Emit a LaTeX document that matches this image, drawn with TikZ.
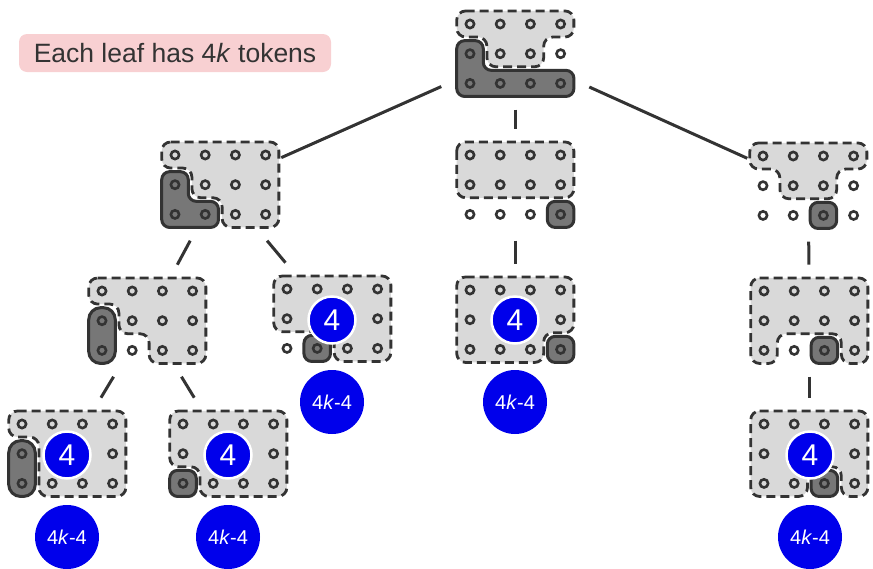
\documentclass[tikz,border=0pt]{standalone}
\usepackage{fontspec}
\setmainfont{Liberation Sans}
\definecolor{ink}{HTML}{333333}
\definecolor{lightfill}{HTML}{D9D9D9}
\definecolor{darkfill}{HTML}{777777}
\definecolor{badge}{RGB}{0,0,235}
\definecolor{notefill}{HTML}{F8D0D2}
\tikzset{
  lightzone/.style={fill=lightfill, draw=ink, line width=2.8pt, dash pattern=on 9pt off 5pt, rounded corners=9pt},
  darkzone/.style={fill=darkfill, draw=ink, line width=3pt, rounded corners=8pt},
  pillzone/.style={darkzone, rounded corners=12pt},
  hole/.style={draw=ink, line width=2.6pt},
  blk/.style={rectangle, inner sep=0pt, outer sep=0pt, minimum width=122pt, minimum height=112pt},
  treeline/.style={draw=ink, line width=3pt},
  fourbadge/.style={circle, fill=badge, draw=white, line width=2.5pt, text=white, minimum size=47pt, inner sep=0pt, font=\fontsize{30}{32}\selectfont},
  restbadge/.style={circle, fill=badge, text=white, minimum size=64pt, inner sep=0pt, font=\fontsize{20}{22}\selectfont},
  notebox/.style={fill=notefill, rounded corners=8pt, text=ink, minimum width=312pt, minimum height=38pt, inner sep=0pt, font=\fontsize{26.5}{30}\selectfont}
}
% ring of 4x3 token holes in the local grid of a block
\newcommand\holegrid{%
  \foreach \c in {0,...,3} {\foreach \r in {0,1,2} {\draw[hole] (\c,\r) circle[radius=4.1pt];}}}
\begin{document}
\begin{tikzpicture}[x=1pt,y=-1pt]
\useasboundingbox (0,0) rectangle (873,568);

% invisible frames of the blocks, used as connector ends
\node[blk, minimum width=148pt] (R) at (515.3,53.7) {};
\node[blk] (A) at (220.3,184.7) {};
\node[blk] (B) at (515.3,184.7) {};
\node[blk] (C) at (808.3,185.7) {};
\node[blk] (AA) at (147.3,320.7) {};
\node[blk] (AB) at (332.3,318.7) {};
\node[blk] (BA) at (515.3,319.7) {};
\node[blk] (CA) at (809.3,320.7) {};
\node[blk] (AAA) at (67.3,453.7) {};
\node[blk] (AAB) at (228.3,453.7) {};
\node[blk] (CAA) at (809.3,453.7) {};

% tree connectors
\draw[treeline] (R) -- (A);
\draw[treeline] (R) -- (B);
\draw[treeline] (R) -- (C);
\draw[treeline] (A) -- (AA);
\draw[treeline] (A) -- (AB);
\draw[treeline] (B) -- (BA);
\draw[treeline] (C) -- (CA);
\draw[treeline] (AA) -- (AAA);
\draw[treeline] (AA) -- (AAB);
\draw[treeline] (CA) -- (CAA);

% root
\begin{scope}[shift={(470pt,-24pt)}, x=30.2pt, y=-29.7pt]
  \draw[lightzone] (-0.44,-0.44) -- (3.44,-0.44) -- (3.44,0.44) -- (2.44,0.44) -- (2.44,1.44) -- (0.56,1.44) -- (0.56,0.44) -- (-0.44,0.44) -- cycle;
  \draw[darkzone] (-0.44,0.56) -- (0.44,0.56) -- (0.44,1.56) -- (3.44,1.56) -- (3.44,2.44) -- (-0.44,2.44) -- cycle;
  \holegrid
\end{scope}

% left child
\begin{scope}[shift={(175pt,-155pt)}, x=30.2pt, y=-29.7pt]
  \draw[lightzone] (-0.44,-0.44) -- (3.44,-0.44) -- (3.44,2.44) -- (1.56,2.44) -- (1.56,1.44) -- (0.56,1.44) -- (0.56,0.44) -- (-0.44,0.44) -- cycle;
  \draw[darkzone] (-0.44,0.56) -- (0.44,0.56) -- (0.44,1.56) -- (1.44,1.56) -- (1.44,2.44) -- (-0.44,2.44) -- cycle;
  \holegrid
\end{scope}

% middle child
\begin{scope}[shift={(470pt,-155pt)}, x=30.2pt, y=-29.7pt]
  \draw[lightzone] (-0.44,-0.44) rectangle (3.44,1.44);
  \draw[darkzone] (2.56,1.56) rectangle (3.44,2.44);
  \holegrid
\end{scope}

% right child
\begin{scope}[shift={(763pt,-156pt)}, x=30.2pt, y=-29.7pt]
  \draw[lightzone] (-0.44,-0.44) -- (3.44,-0.44) -- (3.44,0.44) -- (2.44,0.44) -- (2.44,1.44) -- (0.56,1.44) -- (0.56,0.44) -- (-0.44,0.44) -- cycle;
  \draw[darkzone] (1.56,1.56) rectangle (2.44,2.44);
  \holegrid
\end{scope}

% left-left
\begin{scope}[shift={(102pt,-291pt)}, x=30.2pt, y=-29.7pt]
  \draw[lightzone] (-0.44,-0.44) -- (3.44,-0.44) -- (3.44,2.44) -- (1.56,2.44) -- (1.56,1.44) -- (0.56,1.44) -- (0.56,0.44) -- (-0.44,0.44) -- cycle;
  \draw[pillzone] (-0.44,0.56) rectangle (0.44,2.44);
  \holegrid
\end{scope}

% left-right
\begin{scope}[shift={(287pt,-289pt)}, x=30.2pt, y=-29.7pt]
  \draw[lightzone] (-0.44,-0.44) -- (3.44,-0.44) -- (3.44,2.44) -- (1.56,2.44) -- (1.56,1.44) -- (-0.44,1.44) -- cycle;
  \draw[darkzone] (0.56,1.56) rectangle (1.44,2.44);
  \holegrid
\end{scope}

% middle-left
\begin{scope}[shift={(470pt,-290pt)}, x=30.2pt, y=-29.7pt]
  \draw[lightzone] (-0.44,-0.44) -- (3.44,-0.44) -- (3.44,1.44) -- (2.44,1.44) -- (2.44,2.44) -- (-0.44,2.44) -- cycle;
  \draw[darkzone] (2.56,1.56) rectangle (3.44,2.44);
  \holegrid
\end{scope}

% right-left
\begin{scope}[shift={(764pt,-291pt)}, x=30.2pt, y=-29.7pt]
  \draw[lightzone] (-0.44,-0.44) -- (3.44,-0.44) -- (3.44,2.44) -- (2.56,2.44) -- (2.56,1.44) -- (0.44,1.44) -- (0.44,2.44) -- (-0.44,2.44) -- cycle;
  \draw[darkzone] (1.56,1.56) rectangle (2.44,2.44);
  \holegrid
\end{scope}

% left-left-left
\begin{scope}[shift={(22pt,-424pt)}, x=30.2pt, y=-29.7pt]
  \draw[lightzone] (-0.44,-0.44) -- (3.44,-0.44) -- (3.44,2.44) -- (0.56,2.44) -- (0.56,0.44) -- (-0.44,0.44) -- cycle;
  \draw[pillzone] (-0.44,0.56) rectangle (0.44,2.44);
  \holegrid
\end{scope}

% left-left-right
\begin{scope}[shift={(183pt,-424pt)}, x=30.2pt, y=-29.7pt]
  \draw[lightzone] (-0.44,-0.44) -- (3.44,-0.44) -- (3.44,2.44) -- (0.56,2.44) -- (0.56,1.44) -- (-0.44,1.44) -- cycle;
  \draw[darkzone] (-0.44,1.56) rectangle (0.44,2.44);
  \holegrid
\end{scope}

% right-left-left
\begin{scope}[shift={(764pt,-424pt)}, x=30.2pt, y=-29.7pt]
  \draw[lightzone] (-0.44,-0.44) -- (3.44,-0.44) -- (3.44,2.44) -- (2.56,2.44) -- (2.56,1.44) -- (1.44,1.44) -- (1.44,2.44) -- (-0.44,2.44) -- cycle;
  \draw[darkzone] (1.56,1.56) rectangle (2.44,2.44);
  \holegrid
\end{scope}

% token counts on the leaves
\node[fourbadge] (AB4) at (332,320) {4};
\node[restbadge] (ABr) at (332,402) {4\textit{k}-4};
\node[fourbadge] (BA4) at (515,320) {4};
\node[restbadge] (BAr) at (515,402) {4\textit{k}-4};
\node[fourbadge] (AAA4) at (67,455) {4};
\node[restbadge] (AAAr) at (67,537) {4\textit{k}-4};
\node[fourbadge] (AAB4) at (228,455) {4};
\node[restbadge] (AABr) at (228,537) {4\textit{k}-4};
\node[fourbadge] (CAA4) at (810,455) {4};
\node[restbadge] (CAAr) at (810,537) {4\textit{k}-4};

% note
\node[notebox] (note) at (175,53) {Each leaf has 4\textit{k} tokens};
\end{tikzpicture}
\end{document}
